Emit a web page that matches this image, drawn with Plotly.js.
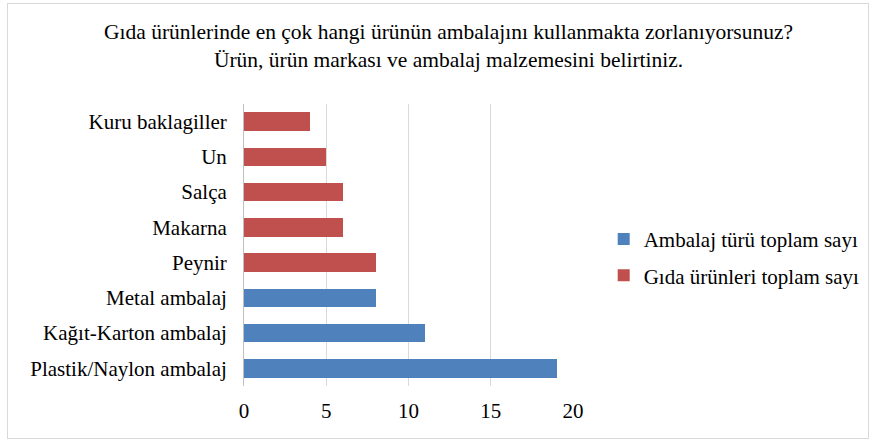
<!DOCTYPE html>
<html><head><meta charset="utf-8">
<script src="https://cdn.plot.ly/plotly-3.0.1.min.js"></script>
<style>html,body{margin:0;padding:0;background:#fff}#chart{width:876px;height:443px}
#frame{position:absolute;left:7px;top:3px;width:862px;height:436px;border:1px solid #d9d9d9;pointer-events:none;box-sizing:border-box}</style>
</head><body>
<div id="chart"></div><div id="frame"></div>
<script>
const packCats = ['Plastik/Naylon ambalaj', 'Kağıt-Karton ambalaj', 'Metal ambalaj'];
const packVals = [19, 11, 8];
const foodCats = ['Peynir', 'Makarna', 'Salça', 'Un', 'Kuru baklagiller'];
const foodVals = [8, 6, 6, 5, 4];
const xTicks = [0, 5, 10, 15, 20];
const seriesNames = ['Ambalaj türü toplam sayı', 'Gıda ürünleri toplam sayı'];
const titleText = 'Gıda ürünlerinde en çok hangi ürünün ambalajını kullanmakta zorlanıyorsunuz?<br>Ürün, ürün markası ve ambalaj malzemesini belirtiniz.';

const font = 'Liberation Serif';
const data = [
  {type:'bar', orientation:'h', y:packCats, x:packVals, name:seriesNames[0], marker:{color:'#4f81bd'}, legendgroup:'a', width:0.52},
  {type:'bar', orientation:'h', y:foodCats, x:foodVals, name:seriesNames[1], marker:{color:'#c0504d'}, legendgroup:'b', width:0.52}
];
const layout = {
  width:876, height:443,
  margin:{l:244, r:302, t:104, b:57},
  paper_bgcolor:'#fff', plot_bgcolor:'#fff',
  font:{family:font, size:21, color:'#000'},
  barmode:'stack',
  title:{text:titleText, font:{family:font, size:21.5, color:'#000'}, x:0.512, xanchor:'center', y:0.912, yref:'container', yanchor:'top'},
  xaxis:{range:[0,20], tickvals:xTicks, showgrid:true, gridcolor:'#d9d9d9', gridwidth:1, zeroline:false, showline:false, ticks:'', ticklabelstandoff:10, fixedrange:true, automargin:false},
  yaxis:{type:'category', categoryorder:'array', categoryarray:packCats.concat(foodCats), showline:true, linecolor:'#bfbfbf', linewidth:1, ticks:'', ticklabelstandoff:12, showgrid:false, automargin:false},
  legend:{x:1.09, xanchor:'left', y:0.456, yanchor:'middle', traceorder:'grouped', tracegroupgap:6, font:{family:font, size:21}},
  showlegend:true
};
Plotly.newPlot('chart', data, layout, {displayModeBar:false, staticPlot:true});
</script>
</body></html>
